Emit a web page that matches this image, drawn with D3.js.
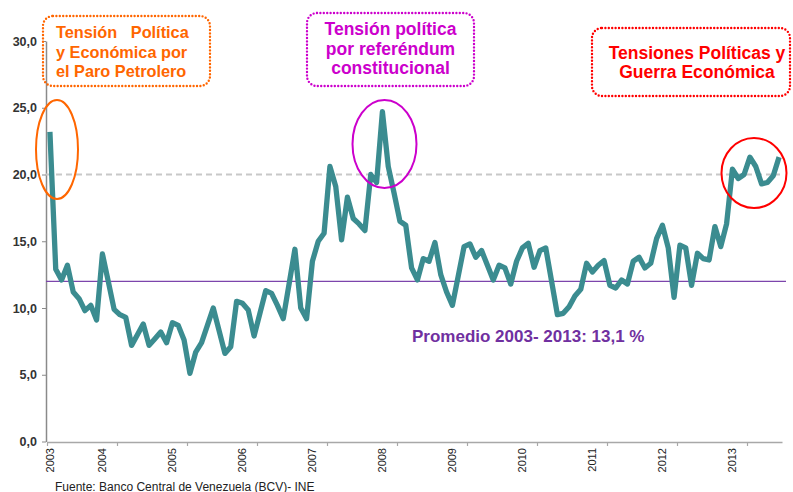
<!DOCTYPE html>
<html>
<head>
<meta charset="utf-8">
<script src="https://cdn.jsdelivr.net/npm/d3@7"></script>
<style>
  html, body { margin: 0; padding: 0; background: #fff; }
  svg { display: block; }
  text { font-family: "Liberation Sans", Arial, sans-serif; }
</style>
</head>
<body>
<svg id="chart" width="793" height="492"></svg>
<script>
// ---- Data (monthly inflation, Jan 2003 – Jun 2013) ----
const inflation = [
  23.2, 12.9, 12.1, 13.2, 11.2, 10.7, 9.8, 10.2, 9.1, 14.05, 12.0, 9.9,
  9.5, 9.3, 7.2, 8.0, 8.8, 7.2, 7.7, 8.2, 7.4, 8.9, 8.7, 7.6,
  5.1, 6.7, 7.4, 8.7, 10.0, 8.3, 6.6, 7.1, 10.5, 10.35, 9.85, 7.9,
  9.6, 11.3, 11.1, 10.2, 9.2, 11.8, 14.4, 10.0, 9.2, 13.5, 15.0, 15.6,
  20.6, 19.1, 15.1, 18.3, 16.7, 16.3, 15.8, 20.0, 19.4, 24.7, 20.6, 18.6,
  16.5, 16.2, 13.0, 12.1, 13.7, 13.5, 14.9, 12.5, 11.2, 10.2, 12.4, 14.6,
  14.8, 13.8, 14.3, 13.2, 12.1, 13.2, 13.0, 11.8, 13.5, 14.5, 14.85, 13.05,
  14.3, 14.5, 12.0, 9.5, 9.6, 10.1, 10.9, 11.4, 13.35, 12.7, 13.2, 13.55,
  11.7, 11.5, 12.1, 11.8, 13.5, 13.8, 13.0, 13.35, 15.2, 16.2, 14.5, 10.8,
  14.7, 14.5, 11.7, 14.1, 13.7, 13.6, 16.1, 14.6, 16.3, 20.4, 19.7, 20.0,
  21.3, 20.6, 19.3, 19.4, 19.9, 21.3
];
const years = ["2003","2004","2005","2006","2007","2008","2009","2010","2011","2012","2013"];
const yTicks = [0, 5, 10, 15, 20, 25, 30];
const thresholdValue = 20;     // dashed reference
const averageLineValue = 12;   // purple reference line as drawn
const averageLabel = "Promedio 2003- 2013: 13,1 %";
const sourceText = "Fuente: Banco Central de Venezuela (BCV)- INE";
const notes = [
  { lines: ["Tensión   Política", "y Económica por", "el Paro Petrolero"], color: "#ff6600" },
  { lines: ["Tensión política", "por referéndum", "constitucional"], color: "#cc00cc" },
  { lines: ["Tensiones Políticas y", "Guerra Económica"], color: "#ff0000" }
];
const nMonths = 126;

// ---- Drawing ----
const svg = d3.select("#chart");
svg.append("rect").attr("width", 793).attr("height", 492).attr("fill", "#fff");

const x = d3.scaleLinear().domain([0, nMonths]).range([47, 782]);
const y = d3.scaleLinear().domain([0, 30]).range([441.5, 41]);
const fmt = d => d3.format(".1f")(d).replace(".", ",");

// Y axis
const yAxis = svg.append("g").attr("transform", "translate(46,0)")
  .call(d3.axisLeft(y).tickValues(yTicks).tickFormat(fmt).tickSizeInner(4).tickSizeOuter(0).tickPadding(5));
yAxis.select(".domain").attr("stroke", "#8a8a8a").attr("stroke-width", 1.5);
yAxis.selectAll(".tick line").attr("stroke", "#8a8a8a");
yAxis.selectAll(".tick text").attr("font-size", 12.5).attr("font-weight", "bold").attr("fill", "#333")
  .style("font-family", "'Liberation Sans', Arial, sans-serif");

// Reference lines
svg.append("line")
  .attr("x1", 46).attr("x2", 780)
  .attr("y1", y(thresholdValue)).attr("y2", y(thresholdValue))
  .attr("stroke", "#c8c8c8").attr("stroke-width", 2).attr("stroke-dasharray", "6,4");
svg.append("line")
  .attr("x1", 46).attr("x2", 786)
  .attr("y1", y(averageLineValue)).attr("y2", y(averageLineValue))
  .attr("stroke", "#7c45ac").attr("stroke-width", 1.3);

// X axis
const monthTicks = d3.range(0, nMonths, 12);
const xAxis = svg.append("g").attr("transform", "translate(0,442)")
  .call(d3.axisBottom(x).tickValues(monthTicks).tickFormat("").tickSizeInner(4).tickSizeOuter(0));
xAxis.select(".domain").attr("stroke", "#a8a8a8").attr("stroke-width", 1.5);
xAxis.selectAll(".tick line").attr("stroke", "#a8a8a8").attr("stroke-width", 1.2);

// Year labels (category label positions: first month, then each October)
svg.append("g").selectAll("text").data(years).join("text")
  .attr("transform", (d, i) => {
    const idx = i === 0 ? 0 : i * 12 - 3;
    return `translate(${x(idx + 0.5)},448) rotate(-90)`;
  })
  .attr("dy", "0.35em")
  .attr("text-anchor", "end")
  .attr("font-size", 11)
  .attr("fill", "#222")
  .text(d => d);

// Series line
const line = d3.line().x((d, i) => x(i + 0.5)).y(d => y(d));
svg.append("path").datum(inflation)
  .attr("d", line)
  .attr("fill", "none")
  .attr("stroke", "#3b8c90")
  .attr("stroke-width", 5.3)
  .attr("stroke-linejoin", "round")
  .attr("stroke-linecap", "butt");

// Average label
svg.append("text").attr("x", 412).attr("y", 342)
  .attr("font-size", 17).attr("font-weight", "bold").attr("fill", "#7030a0")
  .text(averageLabel);

// Annotation boxes
const boxes = [
  { x0: 43, y0: 16, x1: 210, y1: 86, anchor: "start", tx: 56, base: [38, 57.5, 76.5], fs: 16.3 },
  { x0: 307, y0: 13, x1: 474, y1: 86, anchor: "middle", tx: 390.5, base: [35, 55, 74], fs: 17.5 },
  { x0: 592, y0: 28, x1: 790, y1: 96, anchor: "middle", tx: 697, base: [59, 78], fs: 17.5 }
];
notes.forEach((n, k) => {
  const b = boxes[k];
  svg.append("rect")
    .attr("x", b.x0).attr("y", b.y0).attr("width", b.x1 - b.x0).attr("height", b.y1 - b.y0)
    .attr("rx", 10).attr("ry", 10)
    .attr("fill", "none").attr("stroke", n.color).attr("stroke-width", 2.4)
    .attr("stroke-dasharray", "0,3.4").attr("stroke-linecap", "round");
  const t = svg.append("text").attr("font-size", b.fs).attr("font-weight", "bold")
    .attr("fill", n.color).attr("text-anchor", b.anchor).style("white-space", "pre");
  n.lines.forEach((ln, j) => {
    t.append("tspan").attr("x", b.tx).attr("y", b.base[j]).text(ln);
  });
});

// Highlight ellipses
const ellipses = [
  { cx: 57, cy: 149.5, rx: 21, ry: 49.5 },
  { cx: 384.5, cy: 144, rx: 32, ry: 44 },
  { cx: 754, cy: 173, rx: 32.5, ry: 35 }
];
ellipses.forEach((e, k) => {
  svg.append("ellipse").attr("cx", e.cx).attr("cy", e.cy).attr("rx", e.rx).attr("ry", e.ry)
    .attr("fill", "none").attr("stroke", notes[k].color).attr("stroke-width", 2);
});

// Source
svg.append("text").attr("x", 55).attr("y", 490.5)
  .attr("font-size", 12).attr("fill", "#222")
  .text(sourceText);
</script>
</body>
</html>
